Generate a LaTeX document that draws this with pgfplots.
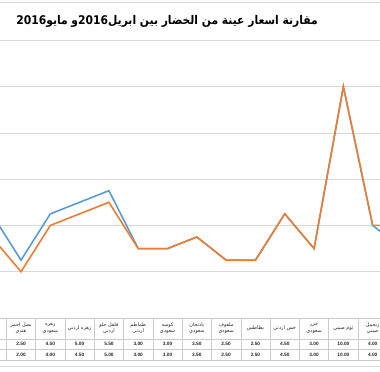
\documentclass[border=0pt]{standalone}
\usepackage{pgfplots}
\pgfplotsset{compat=1.18}
\usepackage{pgfplotstable}
\usepackage{fontspec}
\setmainfont{Liberation Sans}
\newfontfamily\arabicfont[Script=Arabic]{DejaVu Sans}
\TeXXeTstate=1
\definecolor{aprc}{HTML}{5B9BD5}
\definecolor{mayc}{HTML}{ED7D31}
\definecolor{gridc}{HTML}{D9D9D9}
\definecolor{tabc}{HTML}{CBCBCB}
\newcommand\ar[1]{{\arabicfont\beginR #1\endR}}

\pgfplotstableread{
i apr may
-1 4.5 3.5
0 2.5 2.0
1 4.5 4.0
2 5.0 4.5
3 5.5 5.0
4 3.0 3.0
5 3.0 3.0
6 3.5 3.5
7 2.5 2.5
8 2.5 2.5
9 4.5 4.5
10 3.0 3.0
11 10.0 10.0
12 4.0 4.0
13 3.0 4.0
}\prices

\begin{document}
\begin{tikzpicture}
\begin{axis}[
  name=ax,
  scale only axis,
  width=380bp, height=372bp,
  xmin=-0.717, xmax=12.25,
  ymin=-2.333, ymax=13.74,
  axis line style={draw=none},
  tick style={draw=none},
  xtick=\empty,
  ytick={2,4,...,12},
  yticklabels={},
  ymajorgrids,
  grid style={gridc, line width=0.6bp},
  clip=true,
  nodes near coords style={anchor=center, inner sep=0pt, font=\fontsize{4.8}{5}\selectfont\bfseries, text=black!85},
]
% table lines
\draw[tabc, line width=0.5bp] (axis cs:-0.717,0) -- (axis cs:12.25,0);
\draw[tabc, line width=0.5bp] (axis cs:-0.717,-0.907) -- (axis cs:12.25,-0.907);
\draw[tabc, line width=0.5bp] (axis cs:-0.717,-1.339) -- (axis cs:12.25,-1.339);
\draw[tabc, line width=0.5bp] (axis cs:-0.717,-1.814) -- (axis cs:12.25,-1.814);
\draw[gridc, line width=0.5bp] (axis cs:-0.717,-2.073) -- (axis cs:12.25,-2.073);
\draw[gridc, line width=0.6bp] (axis cs:-0.717,13.65) -- (axis cs:12.25,13.65);
\pgfplotsinvokeforeach{-0.5,0.5,1.5,2.5,3.5,4.5,5.5,6.5,7.5,8.5,9.5,10.5,11.5,12.5}{
  \draw[tabc, line width=0.5bp] (axis cs:#1,0) -- (axis cs:#1,-1.814);
}

\addplot[aprc, line width=1.6bp] table[x=i, y=apr] {\prices};
\addplot[mayc, line width=1.6bp] table[x=i, y=may] {\prices};

\addplot[draw=none, nodes near coords={\pgfmathprintnumber[fixed,fixed zerofill,precision=2,assume math mode=true]{\pgfplotspointmeta}}, point meta=\thisrow{apr}] table[x=i, y expr=-1.123] {\prices};
\addplot[draw=none, nodes near coords={\pgfmathprintnumber[fixed,fixed zerofill,precision=2,assume math mode=true]{\pgfplotspointmeta}}, point meta=\thisrow{may}] table[x=i, y expr=-1.576] {\prices};

\tikzset{cat/.style={align=center, inner sep=0pt, font=\fontsize{5}{6.2}\selectfont, text=black!85}}
\node[cat] at (axis cs:0,-0.45) {\ar{بصل احمر}\\\ar{هندي}};
\node[cat] at (axis cs:1,-0.45) {\ar{زهره}\\\ar{سعودي}};
\node[cat] at (axis cs:2,-0.45) {\ar{زهره اردني}};
\node[cat] at (axis cs:3,-0.45) {\ar{فلفل حلو}\\\ar{اردني}};
\node[cat] at (axis cs:4,-0.45) {\ar{طماطم}\\\ar{اردني}};
\node[cat] at (axis cs:5,-0.45) {\ar{كوسه}\\\ar{سعودي}};
\node[cat] at (axis cs:6,-0.45) {\ar{باذنجان}\\\ar{سعودي}};
\node[cat] at (axis cs:7,-0.45) {\ar{ملفوف}\\\ar{سعودي}};
\node[cat] at (axis cs:8,-0.45) {\ar{بطاطس}};
\node[cat] at (axis cs:9,-0.45) {\ar{خس اردني}};
\node[cat] at (axis cs:10,-0.45) {\ar{جزر}\\\ar{سعودي}};
\node[cat] at (axis cs:11,-0.45) {\ar{ثوم صيني}};
\node[cat] at (axis cs:12,-0.45) {\ar{زنجبيل}\\\ar{صيني}};

\node[anchor=east, inner sep=0pt, xscale=0.9, transform shape, font=\fontsize{12}{14}\selectfont\bfseries] at (rel axis cs:0.837,0.942)
  {\ar{مقارنة اسعار عينة من الخضار بين ابريل\beginL 2016\endL{}و مايو\beginL 2016\endL{}}};
\end{axis}
\pgfresetboundingbox
\path[use as bounding box] (ax.south west) rectangle (ax.north east);
\end{tikzpicture}
\end{document}
